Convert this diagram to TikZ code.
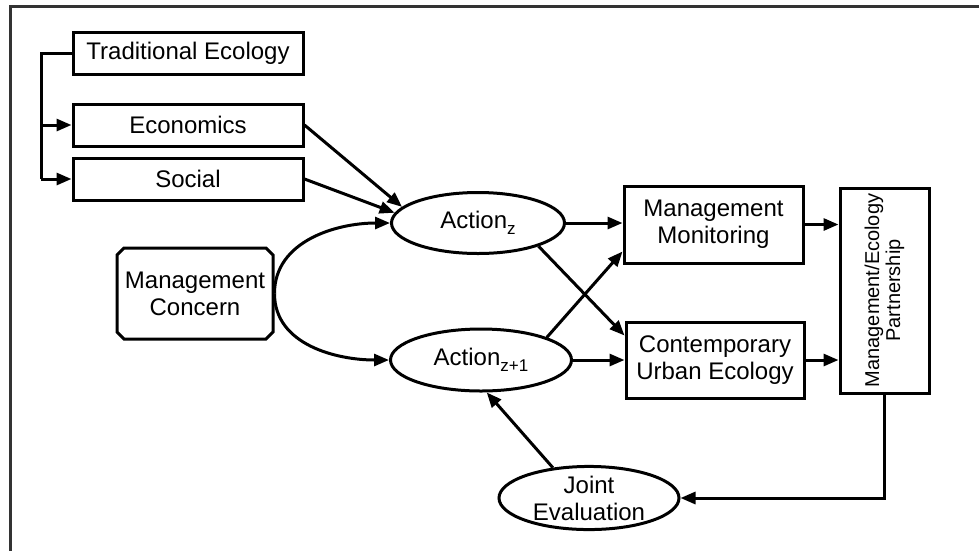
\documentclass[tikz,border=0pt]{standalone}
\usepackage{fontspec}
\setmainfont{Liberation Sans}
\usetikzlibrary{arrows.meta,shapes.geometric,shapes.misc}
\begin{document}
\begin{tikzpicture}[x=1pt,y=-1pt,
  every node/.style={font=\fontsize{24}{27}\selectfont, inner sep=0pt, align=center},
  box/.style={draw, line width=3pt, rectangle},
  oval/.style={draw, line width=3pt, ellipse},
  conn/.style={line width=3pt, -{Triangle[length=15pt,width=12pt]}},
  plain/.style={line width=3pt},
  frame/.style={line width=3pt, draw=black!80}
]
\useasboundingbox (0,0) rectangle (979,550);
\draw[frame] (10,560) -- (10,6) -- (990,6);

\newcommand{\subz}[1]{\raisebox{-0.5ex}{\fontsize{17}{17}\selectfont #1}}

\node[box, minimum width=230pt, minimum height=42pt] (trad) at (188,53) {Traditional Ecology};
\node[box, minimum width=230pt, minimum height=42pt] (econ) at (188,125) {Economics};
\node[box, minimum width=230pt, minimum height=42pt] (social) at (188,179) {Social};
\node[draw, line width=3pt, chamfered rectangle, chamfered rectangle xsep=3.5pt, chamfered rectangle ysep=3.5pt,
      minimum width=156pt, minimum height=91pt] (mc) at (195,293.5) {Management\\Concern};
\node[oval, minimum width=173pt, minimum height=61pt] (actz) at (478,223) {Action\subz{z}};
\node[oval, minimum width=181pt, minimum height=62pt] (actz1) at (481,360) {Action\subz{z+1}};
\node[box, minimum width=179pt, minimum height=77pt] (mm) at (713.5,224.5) {Management\\Monitoring};
\node[box, minimum width=178pt, minimum height=76pt] (cue) at (715,360) {Contemporary\\Urban Ecology};
\node[box, minimum width=89pt, minimum height=205pt] (part) at (884.5,290.5) {};
\node[rotate=90, font=\fontsize{20}{21}\selectfont] (parttext) at (part.center) {Management/Ecology\\Partnership};
\node[oval, minimum width=180pt, minimum height=60pt] (joint) at (589,498) {Joint\\Evaluation};

\coordinate (bx) at (41,0);
\draw[plain] (trad.west) -- (bx |- trad.west) -- (bx |- social.west);
\draw[conn] (bx |- econ.west) -- (econ.west);
\draw[conn] (bx |- social.west) -- (social.west);

\draw[conn] (econ.east) -- (actz.168);
\draw[conn] (social.east) -- (actz.173);
\draw[conn] (mc.east) to[out=90,in=180] (actz.west);
\draw[conn] (mc.east) to[out=-90,in=180] (actz1.west);

\draw[conn] (actz.east) -- (actz.east -| mm.west);
\draw[conn] (actz.-21) -- ([yshift=-15pt]cue.north west);
\draw[conn] (actz1.19) -- ([yshift=13pt]mm.south west);
\draw[conn] (actz1.east) -- (actz1.east -| cue.west);

\draw[conn] (mm.east) -- (mm.east -| part.west);
\draw[conn] (cue.east) -- (cue.east -| part.west);

\draw[conn] (part.south) |- (joint.east);
\draw[conn] (joint.140) -- (actz1.-80);
\end{tikzpicture}
\end{document}
